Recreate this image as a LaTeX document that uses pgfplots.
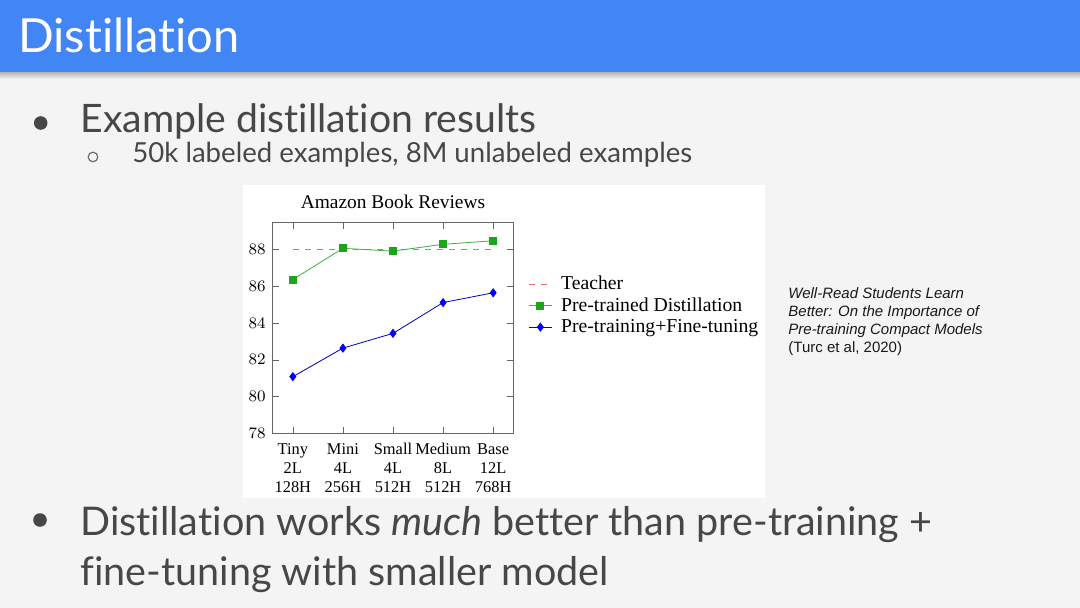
\documentclass[border=0pt]{standalone}
\usepackage{fontspec}
\setmainfont{Liberation Serif}
\newfontfamily\slidefont[Ligatures={NoCommon,NoRare,NoDiscretionary}]{Lato}
\newfontfamily\citefont{Liberation Sans}
\usepackage{pgfplots}
\pgfplotsset{compat=1.18}
\definecolor{slidebg}{HTML}{F4F4F4}
\definecolor{gblue}{HTML}{4285F4}
\definecolor{bodytext}{HTML}{474747}
\definecolor{distgreen}{RGB}{28,165,28}
\definecolor{teacherred}{RGB}{225,110,110}

\begin{document}
\begin{tikzpicture}
% slide, drawn in pixel units (y down)
\begin{scope}[x=0.5pt,y=-0.5pt]
  \useasboundingbox (0,0) rectangle (1080,608);
  \fill[slidebg] (0,0) rectangle (1080,608);
  \shade[top color=black!30, bottom color=slidebg] (0,72) rectangle (1080,79);
  \fill[gblue] (0,0) rectangle (1080,72.5);
  \node[anchor=base west, inner sep=0, text=white, font=\slidefont\fontsize{23.5}{28}\selectfont] at (18,52.3) {Distillation};

  \fill[bodytext] (40.7,123) circle (3.4pt);
  \node[anchor=base west, inner sep=0, text=bodytext, font=\slidefont\fontsize{19.6}{24}\selectfont] at (80,133) {Example distillation results};
  \draw[bodytext!80, line width=0.6pt] (93,157) circle (2.4pt);
  \node[anchor=base west, inner sep=0, text=bodytext, font=\slidefont\fontsize{13.8}{17}\selectfont] at (132,163) {50k labeled examples, 8M unlabeled examples};

  \fill[white] (243,185.5) rectangle (765,497.5);

  \begin{scope}[font=\citefont\fontsize{7.5}{9}\selectfont, text=black!90]
    \node[anchor=base west, inner sep=0] at (788,299) {\itshape Well-Read Students Learn};
    \node[anchor=base west, inner sep=0] at (788,317) {\itshape Better: On the Importance of};
    \node[anchor=base west, inner sep=0] at (788,335) {\itshape Pre-training Compact Models};
    \node[anchor=base west, inner sep=0] at (788,353) {(Turc et al, 2020)};
  \end{scope}

  \fill[bodytext] (40,520) circle (3.4pt);
  \node[anchor=base west, inner sep=0, text=bodytext, font=\slidefont\fontsize{19.75}{24}\selectfont] at (80,535) {Distillation works \textit{much} better than pre-training +};
  \node[anchor=base west, inner sep=0, text=bodytext, font=\slidefont\fontsize{19.75}{24}\selectfont] at (80,585) {fine-tuning with smaller model};
\end{scope}

\begin{axis}[
    at={(136.4pt,-216.75pt)}, anchor=south west,
    scale only axis,
    width=120.2pt, height=105.3pt,
    xmin=-0.4, xmax=4.4,
    ymin=78, ymax=89.42,
    xtick={0,1,2,3,4},
    xticklabels={{Tiny\\2L\\128H},{Mini\\4L\\256H},{Small\\4L\\512H},{Medium\\8L\\512H},{Base\\12L\\768H}},
    ytick={78,80,82,84,86,88},
    xticklabel style={align=center, font=\fontsize{8.2}{9.5}\selectfont, yshift=-1.5pt},
    yticklabel style={font=\fontsize{8.2}{9.6}\selectfont},
    major tick length=3pt,
    axis line style={black!60},
    tick style={black!60},
    title={Amazon Book Reviews},
    title style={at={(0.5,1)}, anchor=base, yshift=1pt, font=\fontsize{9.7}{11}\selectfont},
    legend style={draw=none, fill=none, at={(1.054,0.608)}, anchor=west,
        font=\fontsize{9.85}{11}\selectfont, inner sep=1pt, row sep=-1.5pt},
    legend cell align=left,
    legend image code/.code={\draw[mark repeat=2,mark phase=2,#1] plot coordinates {(0cm,0cm) (0.2cm,0cm) (0.4cm,0cm)}; \path (0.4cm+2.5pt,0cm);},
]
\addplot[teacherred, dashed, thin] coordinates {(0,88) (4,88)};
\addlegendentry{Teacher}
\addplot[distgreen!85, thin, mark=square*, mark options={distgreen}, mark size=1.75pt] coordinates {
    (0,86.35) (1,88.04) (2,87.89) (3,88.26) (4,88.45)
};
\addlegendentry{Pre-trained Distillation}
\addplot[blue!75!black, thin, mark=diamond*, mark options={blue}, mark size=2pt] coordinates {
    (0,81.08) (1,82.63) (2,83.43) (3,85.10) (4,85.63)
};
\addlegendentry{Pre-training+Fine-tuning}
\end{axis}
\end{tikzpicture}
\end{document}
